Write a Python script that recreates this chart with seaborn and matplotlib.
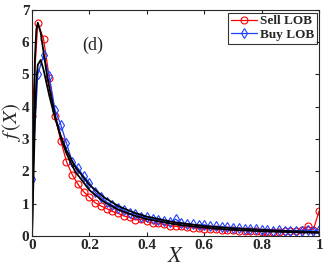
import numpy as np
import pandas as pd
import matplotlib
matplotlib.use("Agg")
import matplotlib.pyplot as plt
import seaborn as sns

# data (x step 0.02)
x_pts = np.round(np.arange(0, 1.0001, 0.02), 2)

sell_lob = [3.7, 6.6, 6.1, 4.9, 3.7, 2.95, 2.3, 1.9, 1.6, 1.37, 1.2, 1.03, 0.93, 0.85, 0.76,
            0.70, 0.62, 0.58, 0.50, 0.52, 0.45, 0.40, 0.40, 0.36, 0.32, 0.30, 0.30, 0.28, 0.26,
            0.24, 0.22, 0.22, 0.21, 0.20, 0.19, 0.18, 0.17, 0.17, 0.16, 0.15, 0.14, 0.13, 0.14,
            0.13, 0.15, 0.15, 0.17, 0.18, 0.30, 0.20, 0.78]

buy_lob = [1.75, 5.0, 5.6, 4.95, 3.9, 3.45, 2.87, 2.3, 2.1, 1.85, 1.65, 1.35, 1.2, 1.05, 0.95,
           0.88, 0.80, 0.70, 0.68, 0.60, 0.58, 0.52, 0.50, 0.45, 0.42, 0.52, 0.40, 0.38, 0.36,
           0.33, 0.35, 0.30, 0.30, 0.28, 0.27, 0.25, 0.25, 0.22, 0.22, 0.21, 0.18, 0.20, 0.17,
           0.18, 0.16, 0.17, 0.16, 0.17, 0.18, 0.15, 0.20]

# fitted curves (black lines)
fit_x = [0, 0.005, 0.01, 0.015, 0.02, 0.03, 0.04, 0.05, 0.06, 0.08, 0.10, 0.12, 0.15,
         0.2, 0.25, 0.3, 0.35, 0.4, 0.5, 0.6, 0.7, 0.8, 0.9, 1.0]
sell_fit = [0, 3.0, 5.5, 6.4, 6.6, 6.3, 5.7, 5.1, 4.6, 3.75, 3.05, 2.55, 2.0, 1.42, 1.06,
            0.82, 0.65, 0.52, 0.36, 0.26, 0.19, 0.15, 0.12, 0.10]
buy_fit = [0, 1.8, 3.6, 4.8, 5.3, 5.45, 5.15, 4.75, 4.35, 3.65, 3.1, 2.65, 2.15, 1.58, 1.2,
           0.93, 0.74, 0.60, 0.42, 0.31, 0.24, 0.19, 0.15, 0.12]

xtick_labels = ["0", "0.2", "0.4", "0.6", "0.8", "1"]
ytick_labels = ["0", "1", "2", "3", "4", "5", "6", "7"]

sell_df = pd.DataFrame({"x": x_pts, "y": sell_lob})
buy_df = pd.DataFrame({"x": x_pts, "y": buy_lob})
fit_df = pd.DataFrame({"x": fit_x, "sell": sell_fit, "buy": buy_fit})

sns.set_style("ticks")
plt.rcParams["font.family"] = ["Liberation Serif", "DejaVu Serif"]
plt.rcParams["mathtext.fontset"] = "stix"
plt.rcParams["xtick.direction"] = "in"
plt.rcParams["ytick.direction"] = "in"

fig = plt.figure(figsize=(3.27, 2.67), dpi=100)
ax = fig.add_axes([0.098, 0.116, 0.878, 0.847])

sns.lineplot(data=sell_df, x="x", y="y", ax=ax, color="red", lw=0.9, marker="o",
             markersize=5, markerfacecolor="none", markeredgecolor="red",
             markeredgewidth=0.8, label="Sell LOB")
sns.lineplot(data=buy_df, x="x", y="y", ax=ax, color="#2040ff", lw=0.9, marker="d",
             markersize=5, markerfacecolor="none", markeredgecolor="#2040ff",
             markeredgewidth=0.8, label="Buy LOB")
sns.lineplot(data=fit_df, x="x", y="sell", ax=ax, color="black", lw=1.3, legend=False)
sns.lineplot(data=fit_df, x="x", y="buy", ax=ax, color="black", lw=1.3, legend=False)

ax.set_xticks([0, 0.2, 0.4, 0.6, 0.8, 1])
ax.set_xticklabels(xtick_labels, fontweight="bold", fontsize=11)
ax.set_yticks([0, 1, 2, 3, 4, 5, 6, 7])
ax.set_yticklabels(ytick_labels, fontweight="bold", fontsize=11)
ax.set_xlim(0, 1)
ax.set_ylim(0, 7)
ax.tick_params(top=True, right=True, length=3, width=0.8, pad=2)
for s in ax.spines.values():
    s.set_linewidth(0.8)

ax.set_xlabel("$X$", fontsize=16, labelpad=-3)
ax.set_ylabel("$f\\,(X)$", fontsize=15, va="center")
ax.yaxis.set_label_coords(-0.072, 0.5)
ax.text(0.21, 5.9, "(d)", fontsize=13, ha="center", va="center")

leg = ax.legend(loc="upper right", frameon=True, fancybox=False, edgecolor="black",
                prop={"weight": "bold", "size": 9.5}, handlelength=2.0,
                borderpad=0.2, labelspacing=0.1, handletextpad=0.2, borderaxespad=0.2)
leg.get_frame().set_linewidth(0.8)

fig.savefig("out.png", dpi=100)
